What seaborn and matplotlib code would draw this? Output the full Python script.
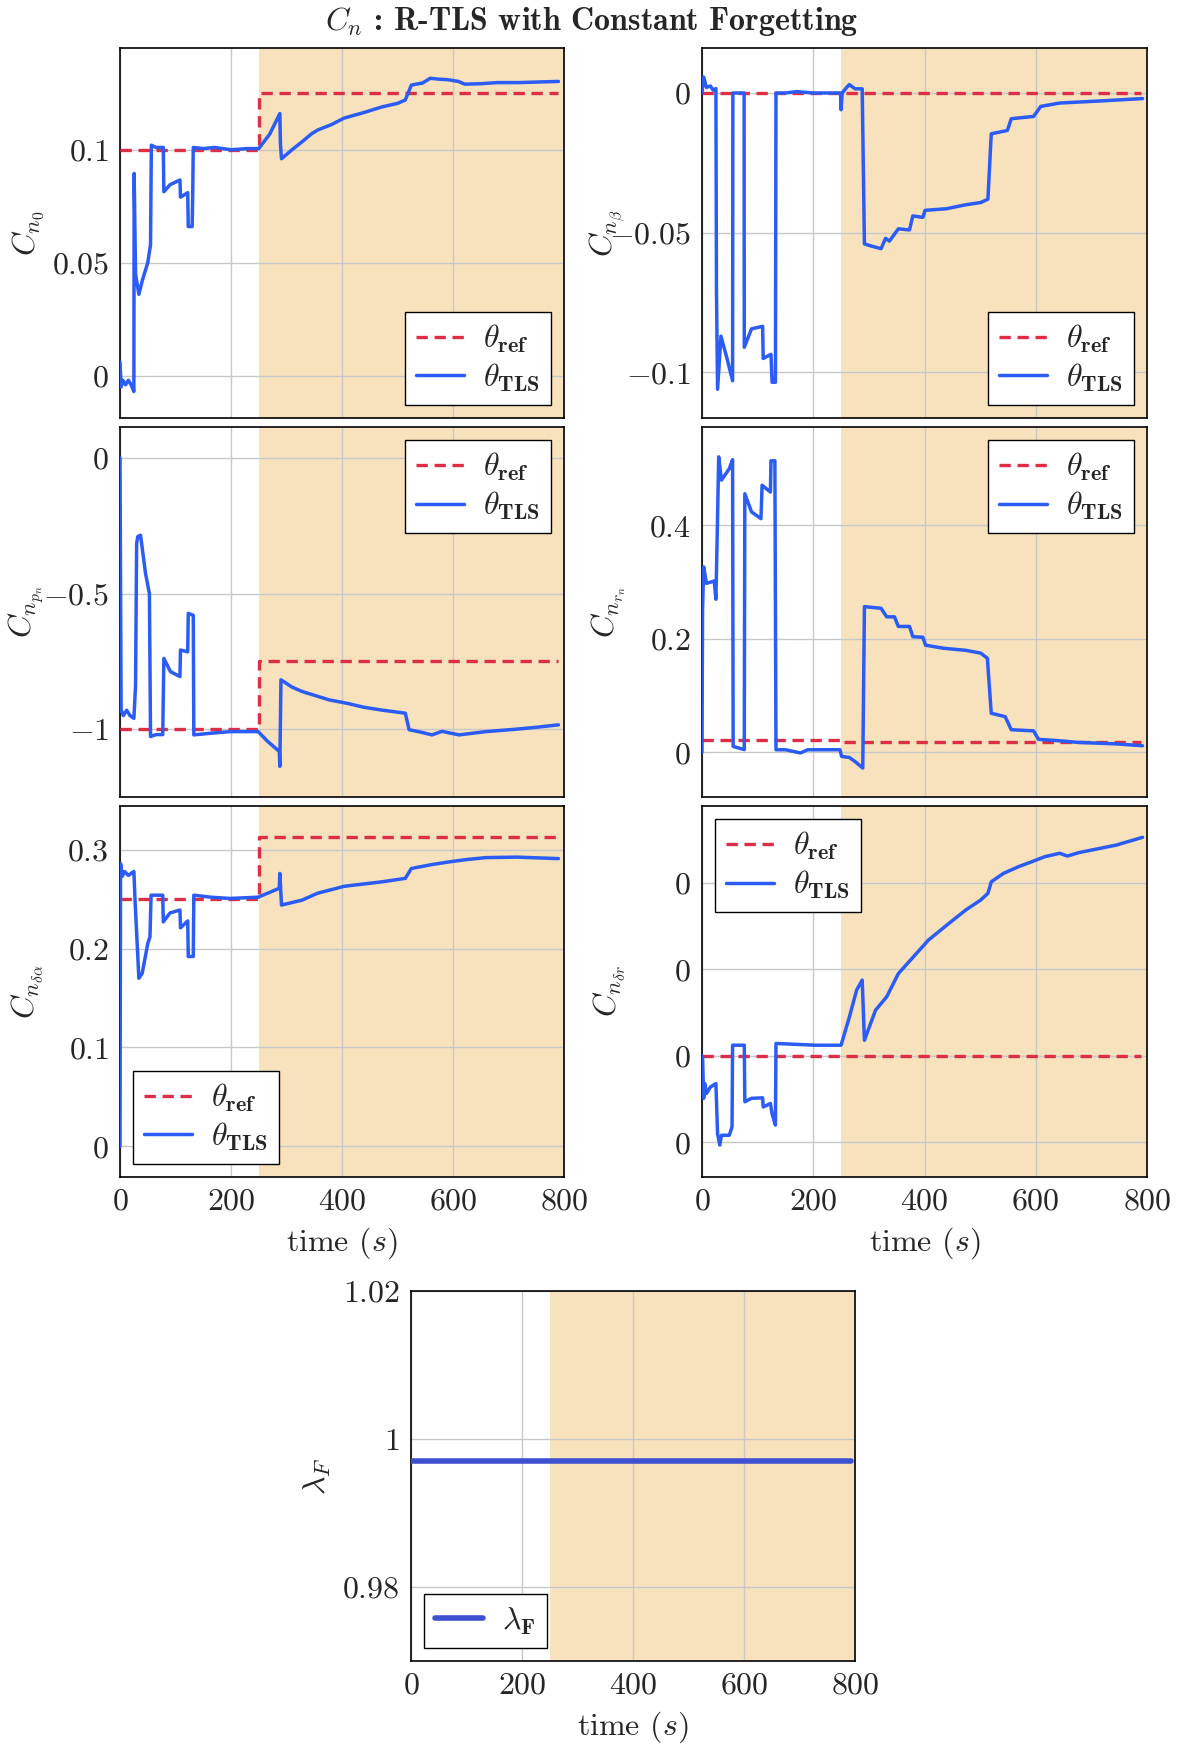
import numpy as np
import pandas as pd
import matplotlib
matplotlib.use("Agg")
import matplotlib.pyplot as plt
import seaborn as sns
from matplotlib.ticker import FixedLocator, FixedFormatter

sns.set_style("white")
plt.rcParams.update({
    "font.family": ["cmr10", "DejaVu Serif"],
    "mathtext.fontset": "cm",
    "axes.formatter.use_mathtext": True,
    "axes.unicode_minus": True,
})

# ---------------- data ----------------
T_END = 790
SHADE_START = 250

# Cn0
t_n0 = [0, 2, 5, 10, 15, 20, 25, 25.5, 28, 34, 40, 50, 55, 56.5, 65, 78, 79, 90, 108, 109, 122, 123, 130, 131, 132,
        150, 170, 200, 230, 250, 270, 288, 289, 291, 310, 328, 345, 356, 380, 404, 440, 473, 500, 514, 525, 545,
        559, 575, 590, 610, 621, 650, 680, 720, 760, 790]
v_n0 = [0.006, -0.005, -0.002, -0.004, -0.002, -0.004, -0.007, 0.0895, 0.045, 0.036, 0.042, 0.05, 0.058, 0.102,
        0.101, 0.101, 0.0814, 0.0845, 0.0866, 0.079, 0.081, 0.066, 0.066, 0.08, 0.101,
        0.1005, 0.101, 0.1, 0.1005, 0.1005, 0.107, 0.116, 0.103, 0.096, 0.1, 0.1035, 0.107, 0.1087, 0.111, 0.114,
        0.1165, 0.119, 0.1205, 0.122, 0.1286, 0.1295, 0.1316, 0.1312, 0.131, 0.1302, 0.129, 0.1292, 0.1297,
        0.1297, 0.13, 0.1302]
ref_n0_t = [0, SHADE_START, SHADE_START, T_END]
ref_n0_v = [0.1, 0.1, 0.125, 0.125]

# Cn_beta
t_nb = [0, 3, 8, 15, 20, 25, 26, 28, 34, 45, 55, 55.5, 65, 75.7, 76, 89, 109, 110, 124, 126, 132, 133, 150,
        170, 200, 240, 249, 250, 252, 260, 265, 275, 288, 292, 305, 322, 330, 337, 353, 373, 379, 397, 401, 440,
        474, 501, 514, 520, 549, 556, 596, 609, 643, 711, 792]
v_nb = [0.0, 0.0057, 0.002, 0.0025, 0.001, 0.0016, -0.0706, -0.106, -0.087, -0.095, -0.103, 0.0, 0.0, 0.0,
        -0.091, -0.0844, -0.0835, -0.095, -0.0935, -0.1035, -0.1035, 0.0, 0.0, 0.0005, 0.0, 0.0, 0.0, -0.006,
        0.0, 0.002, 0.003, 0.0015, 0.0015, -0.054, -0.0548, -0.0557, -0.052, -0.053, -0.0486, -0.049, -0.044,
        -0.0445, -0.042, -0.0414, -0.040, -0.0392, -0.038, -0.0146, -0.0134, -0.0092, -0.0084, -0.0048,
        -0.0036, -0.0029, -0.002]
ref_nb_t = [0, T_END]
ref_nb_v = [0.0, 0.0]

# Cn_pn
t_np = [0, 2, 6, 12, 18, 25, 28, 30, 32, 37, 46, 53, 55, 65, 77, 79, 91, 108, 109, 122, 123, 132, 133, 163,
        198, 249, 266, 287, 288, 290, 310, 328, 350, 377, 410, 439, 473, 514, 521, 540, 562, 580, 611, 635,
        659, 714, 750, 790]
v_np = [0.0, -0.93, -0.95, -0.93, -0.95, -0.96, -0.84, -0.315, -0.29, -0.285, -0.426, -0.50, -1.027, -1.02,
        -1.02, -0.739, -0.788, -0.806, -0.708, -0.715, -0.573, -0.58, -1.021, -1.015, -1.009, -1.009, -1.045,
        -1.082, -1.137, -0.818, -0.845, -0.861, -0.875, -0.892, -0.905, -0.919, -0.93, -0.941, -1.002, -1.01,
        -1.021, -1.008, -1.021, -1.015, -1.009, -1.0, -0.993, -0.984]
ref_np_t = [0, SHADE_START, SHADE_START, T_END]
ref_np_v = [-1.0, -1.0, -0.75, -0.75]

# Cn_rn
t_nr = [0, 1, 3, 8, 22, 25, 28, 30, 35, 49, 55, 56, 76, 77, 89, 106, 108, 123, 124, 131, 133, 150, 177, 190,
        248, 251, 265, 275, 289, 292, 322, 332, 346, 353, 373, 379, 397, 402, 434, 474, 501, 513, 520, 545, 556,
        596, 605, 636, 677, 745, 792]
v_nr = [0.0, 0.251, 0.327, 0.298, 0.302, 0.27, 0.415, 0.521, 0.48, 0.50, 0.516, 0.0106, 0.005, 0.456, 0.424,
        0.412, 0.471, 0.459, 0.514, 0.514, 0.0047, 0.0047, -0.001, 0.0047, 0.0047, -0.007, -0.009, -0.016,
        -0.0276, 0.257, 0.254, 0.239, 0.239, 0.222, 0.222, 0.204, 0.203, 0.189, 0.1836, 0.18, 0.175, 0.166,
        0.069, 0.063, 0.04, 0.038, 0.023, 0.021, 0.0176, 0.015, 0.0117]
ref_nr_t = [0, SHADE_START, SHADE_START, T_END]
ref_nr_v = [0.0223, 0.0223, 0.0176, 0.0176]

# Cn_delta_alpha
t_nda = [0, 1, 4, 8, 15, 25, 27, 34, 40, 50, 54, 56, 77, 78, 90, 108, 109, 122, 123, 132, 133, 163, 198, 249,
         266, 287, 288, 291, 328, 356, 404, 473, 514, 525, 562, 597, 624, 659, 715, 790]
v_nda = [0.0, 0.286, 0.273, 0.278, 0.274, 0.278, 0.25, 0.17, 0.175, 0.205, 0.212, 0.254, 0.254, 0.227, 0.236,
         0.239, 0.221, 0.228, 0.192, 0.192, 0.254, 0.252, 0.2507, 0.252, 0.256, 0.261, 0.276, 0.244, 0.249,
         0.256, 0.263, 0.2676, 0.271, 0.281, 0.285, 0.288, 0.290, 0.292, 0.2925, 0.291]
ref_nda_t = [0, SHADE_START, SHADE_START, T_END]
ref_nda_v = [0.25, 0.25, 0.3125, 0.3125]

# Cn_delta_r  (tick spacing 1e-3 units, all ticks printed as "0")
t_ndr = [0, 1, 3, 5, 8, 15, 25, 28, 32, 35, 49, 54, 55, 76, 77, 89, 109, 110, 123, 126, 132, 133, 163, 204,
         250, 265, 278, 288, 292, 312, 332, 353, 380, 407, 440, 474, 501, 514, 520, 542, 569, 596, 616, 643,
         657, 677, 745, 792]
v_ndr = [0.0, -0.01, -0.49, -0.32, -0.435, -0.36, -0.32, -0.9, -1.03, -0.917, -0.917, -0.82, 0.123, 0.123,
         -0.53, -0.49, -0.485, -0.59, -0.55, -0.67, -0.80, 0.143, 0.135, 0.123, 0.123, 0.45, 0.76, 0.875, 0.18,
         0.528, 0.682, 0.95, 1.144, 1.337, 1.51, 1.684, 1.8, 1.877, 2.01, 2.108, 2.185, 2.25, 2.3, 2.34, 2.308,
         2.347, 2.435, 2.524]
v_ndr = [v * 1e-3 for v in v_ndr]
ref_ndr_t = [0, T_END]
ref_ndr_v = [0.0, 0.0]

# lambda_F
t_lam = [0, 792]
v_lam = [0.997, 0.997]

# axis settings
ylims = {
    "n0": (-0.0187, 0.145), "nb": (-0.1163, 0.0161), "np": (-1.25, 0.114),
    "nr": (-0.0786, 0.5736), "nda": (-0.031, 0.3442), "ndr": (-1.399e-3, 2.886e-3),
}
yticks = {
    "n0": [0, 0.05, 0.1], "nb": [-0.1, -0.05, 0], "np": [-1, -0.5, 0],
    "nr": [0, 0.2, 0.4], "nda": [0, 0.1, 0.2, 0.3], "ndr": [-1e-3, 0, 1e-3, 2e-3],
}
yticklabels = {
    "n0": ["$0$", "$0.05$", "$0.1$"], "nb": ["$-0.1$", "$-0.05$", "$0$"],
    "np": ["$-1$", "$-0.5$", "$0$"], "nr": ["$0$", "$0.2$", "$0.4$"],
    "nda": ["$0$", "$0.1$", "$0.2$", "$0.3$"], "ndr": ["$0$", "$0$", "$0$", "$0$"],
}
ylabels = {
    "n0": r"$C_{n_0}$", "nb": r"$C_{n_\beta}$", "np": r"$C_{n_{p_n}}$",
    "nr": r"$C_{n_{r_n}}$", "nda": r"$C_{n_{\delta\alpha}}$", "ndr": r"$C_{n_{\delta r}}$",
}
legend_loc = {"n0": "lower right", "nb": "lower right", "np": "upper right",
              "nr": "upper right", "nda": "lower left", "ndr": "upper left"}

series = {
    "n0": (t_n0, v_n0, ref_n0_t, ref_n0_v),
    "nb": (t_nb, v_nb, ref_nb_t, ref_nb_v),
    "np": (t_np, v_np, ref_np_t, ref_np_v),
    "nr": (t_nr, v_nr, ref_nr_t, ref_nr_v),
    "nda": (t_nda, v_nda, ref_nda_t, ref_nda_v),
    "ndr": (t_ndr, v_ndr, ref_ndr_t, ref_ndr_v),
}

# ---------------- style ----------------
W, H = 1179, 1745
BLUE = "#2b5cf5"
RED = "#dc2f45"
SHADE = "#f7e2bd"
LAMC = "#3d50d0"
GRID = "#c8c8c8"
FS = 23

fig = plt.figure(figsize=(W / 100, H / 100), dpi=100)


def add_axes_px(x0, y0, x1, y1):
    return fig.add_axes([x0 / W, 1 - y1 / H, (x1 - x0) / W, (y1 - y0) / H])


def style_axes(ax, xlabel=True):
    ax.set_xlim(0, 800)
    ax.axvspan(SHADE_START, 800, color=SHADE, lw=0, zorder=0)
    ax.set_axisbelow(True)
    ax.grid(True, color=GRID, lw=1.0, zorder=0.5)
    ax.xaxis.set_major_locator(FixedLocator([0, 200, 400, 600, 800]))
    if xlabel:
        ax.set_xticklabels(["$0$", "$200$", "$400$", "$600$", "$800$"])
        ax.set_xlabel(r"time $(s)$", fontsize=FS, labelpad=7)
    else:
        ax.set_xticklabels([])
        ax.set_xlabel("")
    ax.tick_params(direction="in", length=5, width=1, color="#888888",
                   labelsize=FS, pad=8, top=False, right=False)
    for s in ax.spines.values():
        s.set_color("black")
        s.set_linewidth(1.2)
        s.set_visible(True)


def legend(ax, loc):
    leg = ax.legend(loc=loc, fontsize=FS, frameon=True, fancybox=False,
                    edgecolor="black", framealpha=1, handlelength=1.5,
                    handletextpad=0.6, borderpad=0.35, labelspacing=0.2,
                    borderaxespad=0.4)
    leg.get_frame().set_linewidth(1.0)


cols = [(120, 564), (702, 1147)]
rows = [(48, 418), (427, 797), (806, 1177)]
keys = [["n0", "nb"], ["np", "nr"], ["nda", "ndr"]]

for r, (y0, y1) in enumerate(rows):
    for c, (x0, x1) in enumerate(cols):
        k = keys[r][c]
        ax = add_axes_px(x0, y0, x1, y1)
        t, v, rt, rv = series[k]
        sns.lineplot(x=rt, y=rv, ax=ax, color=RED, lw=2.4, linestyle=(0, (3.4, 2.0)),
                     label=r"$\theta_{\mathbf{ref}}$", estimator=None, sort=False, zorder=3)
        sns.lineplot(x=t, y=v, ax=ax, color=BLUE, lw=2.5,
                     label=r"$\theta_{\mathbf{TLS}}$", estimator=None, sort=False, zorder=4)
        style_axes(ax, xlabel=(r == 2))
        ax.set_ylim(*ylims[k])
        ax.yaxis.set_major_locator(FixedLocator(yticks[k]))
        ax.yaxis.set_major_formatter(FixedFormatter(yticklabels[k]))
        ax.set_ylabel(ylabels[k], fontsize=FS)
        ax.yaxis.set_label_coords(-74 / (x1 - x0), 0.5)
        legend(ax, legend_loc[k])

# bottom lambda panel
axl = add_axes_px(411, 1291, 855, 1661)
sns.lineplot(x=t_lam, y=v_lam, ax=axl, color=LAMC, lw=4.0, label=r"$\lambda_{\mathbf{F}}$",
             estimator=None, sort=False, zorder=4)
style_axes(axl, xlabel=True)
axl.set_ylim(0.97, 1.02)
axl.yaxis.set_major_locator(FixedLocator([0.98, 1.0, 1.02]))
axl.yaxis.set_major_formatter(FixedFormatter(["$0.98$", "$1$", "$1.02$"]))
axl.set_ylabel(r"$\lambda_F$", fontsize=FS)
axl.yaxis.set_label_coords(-78 / 444, 0.5)
legend(axl, "lower left")

fig.text(592 / W, 1 - 22 / H, r"$C_n$ : R-TLS with Constant Forgetting",
         ha="center", va="center", fontsize=FS, family=["cmb10", "DejaVu Serif"])

fig.savefig("out.png", dpi=100)
